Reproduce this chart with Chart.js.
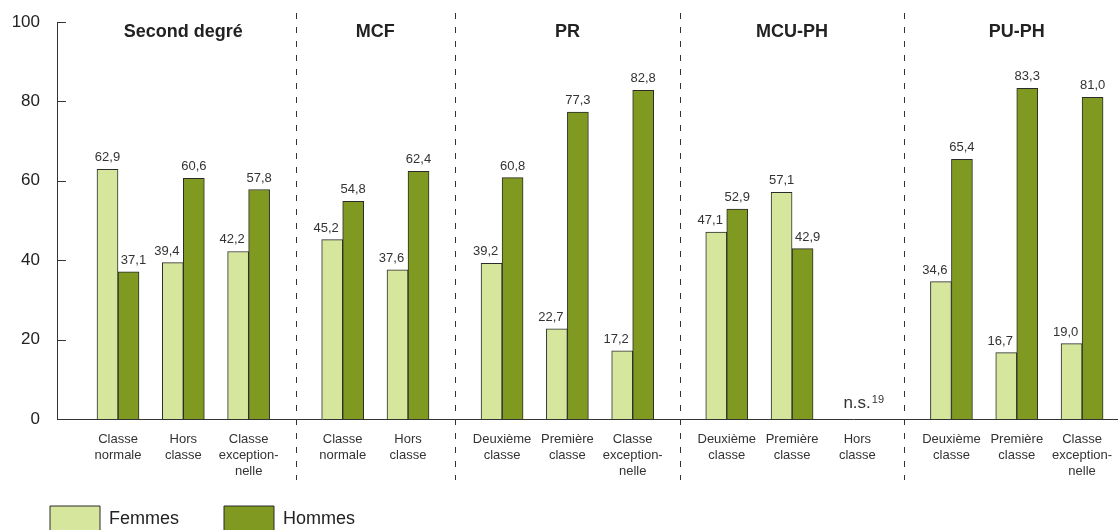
<!DOCTYPE html>
<html>
<head>
<meta charset="utf-8">
<script src="https://cdn.jsdelivr.net/npm/chart.js@4"></script>
<style>
  html, body { margin: 0; padding: 0; background: #fff; overflow: hidden; }
  #wrap { width: 1118px; height: 542px; position: relative; }
</style>
</head>
<body>
<div id="wrap"><canvas id="chart"></canvas></div>
<script>
// Data
const groupNames = ['Second degré', 'MCF', 'PR', 'MCU-PH', 'PU-PH'];
const groupSizes = [3, 2, 3, 3, 3];
const categories = [
    ['Classe', 'normale'], ['Hors', 'classe'], ['Classe', 'exception-', 'nelle'],
    ['Classe', 'normale'], ['Hors', 'classe'],
    ['Deuxième', 'classe'], ['Première', 'classe'], ['Classe', 'exception-', 'nelle'],
    ['Deuxième', 'classe'], ['Première', 'classe'], ['Hors', 'classe'],
    ['Deuxième', 'classe'], ['Première', 'classe'], ['Classe', 'exception-', 'nelle']
];
const femmes = [62.9, 39.4, 42.2, 45.2, 37.6, 39.2, 22.7, 17.2, 47.1, 57.1, null, 34.6, 16.7, 19.0];
const hommes = [37.1, 60.6, 57.8, 54.8, 62.4, 60.8, 77.3, 82.8, 52.9, 42.9, null, 65.4, 83.3, 81.0];
const yTicks = [0, 20, 40, 60, 80, 100];
const nsIndex = 10;

// category positions along the x axis, with a wider gap between groups
const GAP = 0.44;
const positions = [];
const groupOf = [];
{
    let k = 0;
    groupSizes.forEach((n, g) => {
        for (let i = 0; i < n; i++) { positions.push(k + g * GAP); groupOf.push(g); k++; }
    });
}

const fmt = v => v.toFixed(1).replace('.', ',');

// Group titles, separators, inner y ticks, value labels, n.s. note
const decorations = {
    id: 'decorations',
    afterDatasetsDraw(chart) {
        const { ctx, scales: { x, y }, chartArea } = chart;
        ctx.save();

        // inner tick marks on the y axis
        ctx.strokeStyle = '#333';
        ctx.lineWidth = 1;
        yTicks.forEach(t => {
            const py = Math.round(y.getPixelForValue(t)) + 0.5;
            ctx.beginPath();
            ctx.moveTo(chartArea.left, py);
            ctx.lineTo(chartArea.left + 9, py);
            ctx.stroke();
        });

        // dashed separators between groups
        ctx.setLineDash([6, 8]);
        for (let i = 1; i < positions.length; i++) {
            if (groupOf[i] !== groupOf[i - 1]) {
                const px = Math.round(x.getPixelForValue((positions[i] + positions[i - 1]) / 2)) + 0.5;
                ctx.beginPath();
                ctx.moveTo(px, 13);
                ctx.lineTo(px, 480);
                ctx.stroke();
            }
        }
        ctx.setLineDash([]);

        // group titles
        ctx.fillStyle = '#222';
        ctx.font = 'bold 18px "Liberation Sans", Arial, sans-serif';
        ctx.textAlign = 'center';
        ctx.textBaseline = 'middle';
        groupNames.forEach((name, g) => {
            const idx = positions.filter((p, i) => groupOf[i] === g);
            const mid = (idx[0] + idx[idx.length - 1]) / 2;
            ctx.fillText(name, x.getPixelForValue(mid), 32);
        });

        // value labels above bars, nudged away from a taller neighbour
        ctx.font = '13px "Liberation Sans", Arial, sans-serif';
        ctx.fillStyle = '#333';
        ctx.textBaseline = 'alphabetic';
        chart.data.datasets.forEach((ds, di) => {
            chart.getDatasetMeta(di).data.forEach((bar, i) => {
                const v = ds.data[i].y;
                if (v === null) return;
                const other = di === 0 ? hommes[i] : femmes[i];
                let dx = 0;
                if (other > v) dx = di === 0 ? -6 : 5;
                ctx.fillText(fmt(v), bar.x + dx, bar.y - 8);
            });
        });

        // n.s. note for the missing category
        const nx = x.getPixelForValue(positions[nsIndex]);
        ctx.textAlign = 'left';
        ctx.font = '17px "Liberation Sans", Arial, sans-serif';
        const w = ctx.measureText('n.s.').width;
        ctx.fillText('n.s.', nx - 14, 408);
        ctx.font = '11px "Liberation Sans", Arial, sans-serif';
        ctx.fillText('19', nx - 14 + w + 1, 403);

        ctx.restore();
    }
};

Chart.defaults.font.family = '"Liberation Sans", Arial, sans-serif';
Chart.defaults.color = '#333';

new Chart(document.getElementById('chart'), {
    type: 'bar',
    data: {
        datasets: [{
            label: 'Femmes',
            data: femmes.map((v, i) => ({ x: positions[i], y: v })),
            backgroundColor: '#d6e69d',
            borderColor: '#2b2b2b',
            borderWidth: 1
        }, {
            label: 'Hommes',
            data: hommes.map((v, i) => ({ x: positions[i], y: v })),
            backgroundColor: '#7f9921',
            borderColor: '#2b2b2b',
            borderWidth: 1
        }]
    },
    options: {
        responsive: true,
        maintainAspectRatio: false,
        animation: false,
        barThickness: 21,
        layout: { padding: { left: 5, right: 0, top: 22, bottom: 0 } },
        scales: {
            x: {
                type: 'linear',
                offset: false,
                min: -0.934,
                max: 15.31,
                grid: { display: false, drawTicks: false, offset: false },
                border: { display: true, color: '#333', width: 1 },
                afterBuildTicks: scale => { scale.ticks = positions.map(p => ({ value: p })); },
                afterFit: scale => {
                    scale.height = 42;
                    scale.paddingLeft = 0;
                    scale.paddingRight = 0;
                    // let the third label line spill below the axis box
                    scale._computeLabelArea = () => undefined;
                },
                ticks: {
                    autoSkip: false,
                    maxRotation: 0,
                    padding: 13,
                    color: '#333',
                    font: { size: 13, lineHeight: 1.2 },
                    callback: (v, i) => categories[i]
                }
            },
            y: {
                min: 0,
                max: 100,
                grid: { display: false, drawTicks: false },
                border: { display: true, color: '#333', width: 1 },
                afterBuildTicks: scale => { scale.ticks = yTicks.map(v => ({ value: v })); },
                afterFit: scale => {
                    scale.width = 52;
                    scale.paddingTop = 0;
                    scale.paddingBottom = 0;
                },
                ticks: {
                    padding: 17,
                    color: '#222',
                    font: { size: 17 }
                }
            }
        },
        plugins: {
            legend: {
                position: 'bottom',
                align: 'start',
                labels: {
                    boxWidth: 50,
                    boxHeight: 26,
                    padding: 45,
                    color: '#222',
                    font: { size: 18 }
                }
            },
            tooltip: { enabled: false }
        }
    },
    plugins: [decorations]
});
</script>
</body>
</html>
